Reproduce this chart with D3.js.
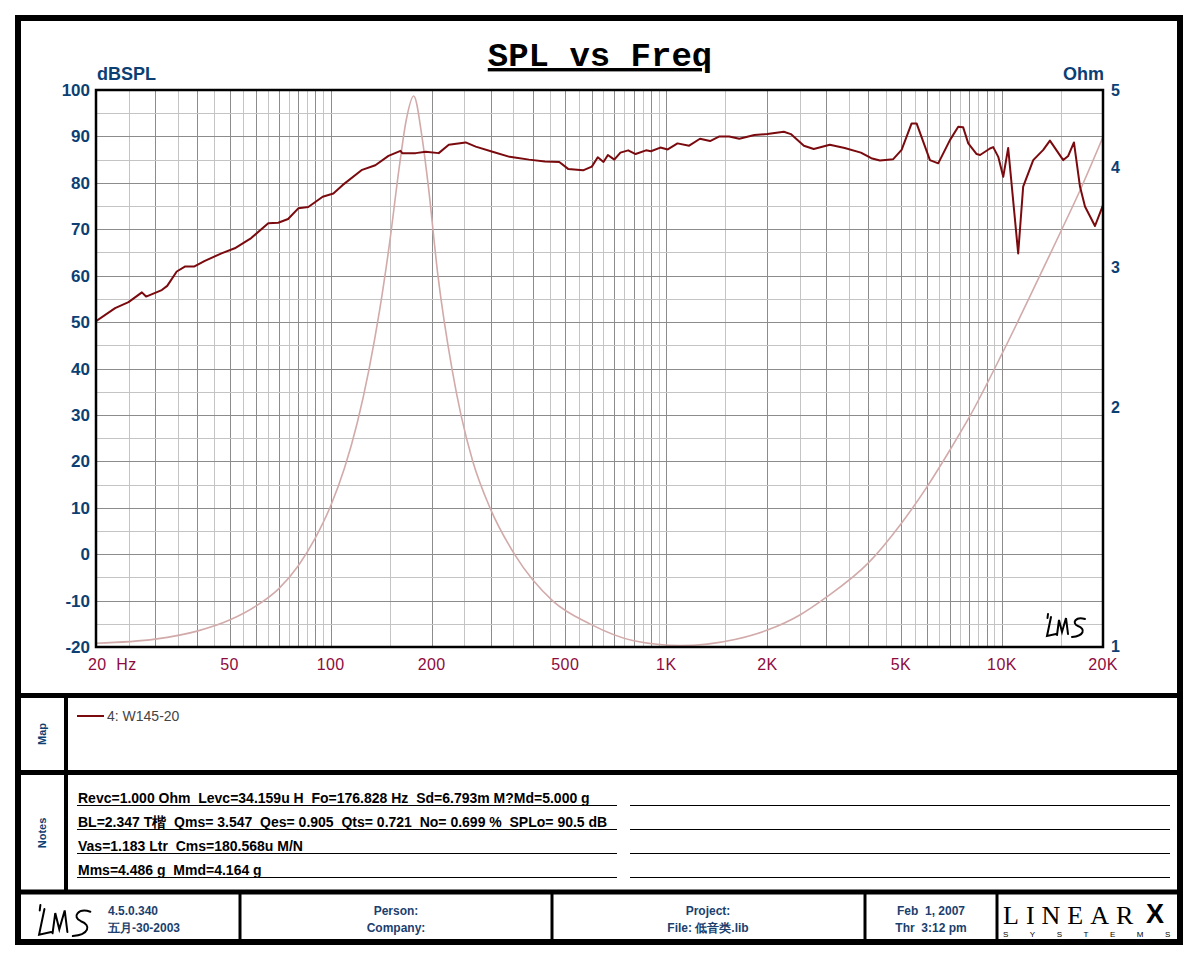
<!DOCTYPE html>
<html>
<head>
<meta charset="utf-8">
<script src="https://cdn.jsdelivr.net/npm/d3@7"></script>
<style>
body { margin: 0; background: #fff; }
text { white-space: pre; }
</style>
</head>
<body>
<svg width="1200" height="960"></svg>
<script>
// SPL curve
var splFreq = [20, 22.8, 25, 27.4, 28.2, 31.4, 32.6, 34.8, 36.9, 39.3, 42.2, 47.3, 51.8, 58, 65.2, 69.8, 74.7, 80.1, 85.8, 94.7,
    101.9, 108.5, 124.1, 135.9, 148.7, 161.5, 163.4, 179.2, 191.9, 209.9, 224.9, 252.5, 270.6, 303.6, 341.5, 357.7,
    390, 435, 480, 510, 565, 600, 625, 650, 670, 700, 730, 770, 810, 870, 900, 960, 1010, 1080, 1170, 1260, 1350, 1440,
    1540, 1650, 1830, 2000, 2240, 2350, 2570, 2750, 3070, 3400, 3800, 4080, 4328, 4743, 5024, 5381, 5568, 6101, 6459,
    6998, 7409, 7660, 7937, 8406, 8608, 9210, 9417, 9750, 10088, 10437, 11177, 11567, 12393, 13275, 13896, 15224,
    15755, 16386, 17078, 17674, 18929, 20000];
var splDb = [50.2, 53.0, 54.3, 56.4, 55.5, 56.9, 57.8, 60.9, 62.0, 62.0, 63.2, 64.8, 65.9, 68.1, 71.3, 71.4, 72.2, 74.5, 74.8, 77.0,
    77.7, 79.5, 82.8, 83.8, 85.8, 86.9, 86.4, 86.4, 86.7, 86.4, 88.2, 88.7, 87.8, 86.7, 85.6, 85.4,
    85.0, 84.6, 84.5, 83.0, 82.7, 83.5, 85.5, 84.5, 86.0, 85.0, 86.5, 87.0, 86.2, 87.0, 86.8, 87.6, 87.2, 88.5, 88.0, 89.5, 89.0, 90.0,
    90.0, 89.5, 90.3, 90.5, 91.0, 90.5, 88.0, 87.3, 88.2, 87.5, 86.5, 85.3, 84.8, 85.1, 87.1, 92.8, 92.8, 84.9, 84.2,
    89.2, 92.1, 92.0, 88.5, 86.2, 86.0, 87.4, 87.7, 85.6, 81.3, 87.5, 64.8, 79.2, 84.9, 87.1, 89.1, 84.9,
    85.8, 88.7, 79.2, 74.9, 70.7, 75.2];

// impedance curve (Ohm)
var zFreq = [20, 30, 40, 50, 60, 70, 80, 90, 100, 110, 120, 130, 140, 150, 160, 168, 176.8,
    187.1, 195, 208.8, 229.9, 244.6, 265.5, 298.4, 354, 459.6, 592, 800, 1100, 1600,
    2000, 2500, 3000, 4000, 5000, 6000, 7000, 8000, 10000, 13300, 15000, 17000, 20000];
var zOhm = [1.011, 1.023, 1.047, 1.081, 1.126, 1.183, 1.264, 1.370, 1.503, 1.677, 1.910, 2.226, 2.648, 3.223, 3.991, 4.585, 4.914,
    4.37, 3.82, 2.925, 2.234, 1.954, 1.707, 1.495, 1.305, 1.142, 1.069, 1.018, 1.004, 1.022,
    1.050, 1.097, 1.155, 1.275, 1.427, 1.592, 1.767, 1.944, 2.332, 2.990, 3.327, 3.724, 4.365];

var dbTicks = [-20, -10, 0, 10, 20, 30, 40, 50, 60, 70, 80, 90, 100];
var ohmTicks = [1, 2, 3, 4, 5];
var freqTicks = [20, 50, 100, 200, 500, 1000, 2000, 5000, 10000, 20000];
var freqLabels = ["20  Hz", "50", "100", "200", "500", "1K", "2K", "5K", "10K", "20K"];
var legendLabel = "4: W145-20";
var notes = [
    "Revc=1.000 Ohm  Levc=34.159u H  Fo=176.828 Hz  Sd=6.793m M?Md=5.000 g",
    "BL=2.347 T楷  Qms= 3.547  Qes= 0.905  Qts= 0.721  No= 0.699 %  SPLo= 90.5 dB",
    "Vas=1.183 Ltr  Cms=180.568u M/N",
    "Mms=4.486 g  Mmd=4.164 g"
];

var blue = "#0c3f73", red = "#8e0b3e", ink = "#1b3f6e";
var narrow = "'Liberation Sans Narrow', 'Arial Narrow', 'Liberation Sans', Arial, sans-serif";
var sans = "'Liberation Sans', Arial, sans-serif";

var svg = d3.select("svg");
svg.append("rect").attr("width", 1200).attr("height", 960).attr("fill", "#fff");

var plot = {left: 96, top: 90, right: 1103, bottom: 647};

var x = d3.scaleLog().domain([20, 20000]).range([plot.left, plot.right]);
var y = d3.scaleLinear().domain([-20, 100]).range([plot.bottom, plot.top]);
var yz = d3.scaleLog().domain([1, 5]).range([plot.bottom, plot.top]);

// grid
var gridX = [];
[10, 100, 1000, 10000].forEach(function(dec) {
    gridX.push({v: dec * 1.5, major: false});
    for (var m = 2; m <= 10; m += 0.5) gridX.push({v: dec * m, major: m % 1 === 0});
});
gridX = gridX.filter(function(d) { return d.v > 20 && d.v < 20000; });

var grid = svg.append("g").attr("shape-rendering", "crispEdges");
grid.selectAll(".gx").data(gridX).enter().append("line")
    .attr("x1", function(d) { return Math.round(x(d.v)) + 0.5; })
    .attr("x2", function(d) { return Math.round(x(d.v)) + 0.5; })
    .attr("y1", plot.top).attr("y2", plot.bottom)
    .attr("stroke", function(d) { return d.major ? "#8c8c8c" : "#c4c4c4"; });

grid.selectAll(".gy").data(d3.range(-15, 100, 5)).enter().append("line")
    .attr("x1", plot.left).attr("x2", plot.right)
    .attr("y1", function(d) { return Math.round(y(d)) + 0.5; })
    .attr("y2", function(d) { return Math.round(y(d)) + 0.5; })
    .attr("stroke", function(d) { return d % 10 === 0 ? "#8c8c8c" : "#c4c4c4"; });

svg.append("clipPath").attr("id", "clip").append("rect")
    .attr("x", plot.left).attr("y", plot.top)
    .attr("width", plot.right - plot.left).attr("height", plot.bottom - plot.top);

var zLine = d3.line().curve(d3.curveMonotoneX)
    .x(function(d, i) { return x(zFreq[i]); })
    .y(function(d, i) { return yz(zOhm[i]); });
svg.append("path").datum(zFreq).attr("d", zLine).attr("clip-path", "url(#clip)")
    .attr("fill", "none").attr("stroke", "#d2aaaa").attr("stroke-width", 1.6);

var splLine = d3.line()
    .x(function(d, i) { return x(splFreq[i]); })
    .y(function(d, i) { return y(splDb[i]); });
svg.append("path").datum(splFreq).attr("d", splLine).attr("clip-path", "url(#clip)")
    .attr("fill", "none").attr("stroke", "#7a0a0e").attr("stroke-width", 2).attr("stroke-linejoin", "round");

svg.append("rect").attr("x", plot.left).attr("y", plot.top)
    .attr("width", plot.right - plot.left).attr("height", plot.bottom - plot.top)
    .attr("fill", "none").attr("stroke", "#000").attr("stroke-width", 2.5);

// axes labels
svg.append("g").selectAll("text").data(dbTicks).enter().append("text")
    .attr("x", plot.left - 6).attr("y", function(d) { return y(d) + 6; })
    .attr("text-anchor", "end").attr("font-family", sans).attr("font-weight", "bold")
    .attr("font-size", 17).attr("fill", blue).text(function(d) { return d; });

svg.append("g").selectAll("text").data(ohmTicks).enter().append("text")
    .attr("x", plot.right + 8).attr("y", function(d) { return yz(d) + (d === 1 ? 5 : 6); })
    .attr("font-family", sans).attr("font-weight", "bold")
    .attr("font-size", 16).attr("fill", blue).text(function(d) { return d; });

svg.append("g").selectAll("text").data(freqTicks).enter().append("text")
    .attr("x", function(d) { return x(d); }).attr("y", 670)
    .attr("text-anchor", function(d, i) { return i === 0 ? "start" : "middle"; })
    .attr("dx", function(d, i) { return i === 0 ? -8 : 0; })
    .attr("font-family", sans).attr("font-size", 16).attr("letter-spacing", 0.4).attr("fill", red)
    .text(function(d, i) { return freqLabels[i]; });

svg.append("text").attr("x", 97).attr("y", 80).attr("font-family", sans).attr("font-weight", "bold")
    .attr("font-size", 18).attr("fill", blue).text("dBSPL");
svg.append("text").attr("x", 1104).attr("y", 80).attr("text-anchor", "end").attr("font-family", sans)
    .attr("font-weight", "bold").attr("font-size", 18).attr("fill", blue).text("Ohm");

svg.append("text").attr("x", 600).attr("y", 66).attr("text-anchor", "middle")
    .attr("font-family", "'Liberation Mono', 'Courier New', monospace").attr("font-weight", "bold")
    .attr("font-size", 34).attr("text-decoration", "underline").attr("fill", "#000").text("SPL vs Freq");

// handwritten LMS mark
function lms(g, tx, ty, s) {
    g.append("path")
        .attr("transform", "translate(" + tx + "," + ty + ") scale(" + s + ")")
        .attr("d", "M4,0 L3.5,4 M7,3 L3,22 L12,20 M13,21 L15,6 L18,18 L22,4 L24,20 M41,5 C32,2 27,9 34,12 C42,15 40,22 28,23")
        .attr("fill", "none").attr("stroke", "#000").attr("stroke-width", 2 / s).attr("stroke-linecap", "round");
}
lms(svg, 1044, 614, 1);

// frame panels
var frame = svg.append("g").attr("fill", "none").attr("stroke", "#000");
frame.append("rect").attr("x", 18).attr("y", 18).attr("width", 1162).attr("height", 924).attr("stroke-width", 6);
[695.5, 772.5, 892].forEach(function(yy) {
    frame.append("line").attr("x1", 18).attr("x2", 1180).attr("y1", yy).attr("y2", yy).attr("stroke-width", 5);
});
frame.append("line").attr("x1", 66).attr("x2", 66).attr("y1", 695).attr("y2", 892).attr("stroke-width", 4);
[240, 552, 865, 997].forEach(function(xx) {
    frame.append("line").attr("x1", xx).attr("x2", xx).attr("y1", 892).attr("y2", 942).attr("stroke-width", 3);
});

// side labels
[["Map", 734], ["Notes", 833]].forEach(function(d) {
    svg.append("text").attr("transform", "translate(46," + d[1] + ") rotate(-90)")
        .attr("text-anchor", "middle").attr("font-family", sans).attr("font-weight", "bold")
        .attr("font-size", 11).attr("fill", blue).text(d[0]);
});

// legend
svg.append("line").attr("x1", 77).attr("x2", 104).attr("y1", 716).attr("y2", 716)
    .attr("stroke", "#7a0a0e").attr("stroke-width", 2);
svg.append("text").attr("x", 107).attr("y", 721).attr("font-family", sans)
    .attr("font-size", 14).attr("fill", "#444").text(legendLabel);

// notes
var noteRows = svg.append("g");
notes.forEach(function(t, i) {
    var yy = 803 + i * 24;
    noteRows.append("text").attr("x", 78).attr("y", yy).attr("font-family", narrow)
        .attr("font-weight", "bold").attr("font-size", 14).attr("fill", "#000").text(t);
    noteRows.append("line").attr("x1", 77).attr("x2", 617).attr("y1", yy + 2.5).attr("y2", yy + 2.5)
        .attr("stroke", "#000").attr("stroke-width", 1.2);
    noteRows.append("line").attr("x1", 630).attr("x2", 1170).attr("y1", yy + 2.5).attr("y2", yy + 2.5)
        .attr("stroke", "#000").attr("stroke-width", 1.2);
});

// footer
lms(svg, 35, 905, 1.35);
var foot = [
    [108, 915, "start", "4.5.0.340"], [108, 932, "start", "五月-30-2003"],
    [396, 915, "middle", "Person:"], [396, 932, "middle", "Company:"],
    [708, 915, "middle", "Project:"], [708, 932, "middle", "File: 低音类.lib"],
    [931, 915, "middle", "Feb  1, 2007"], [931, 932, "middle", "Thr  3:12 pm"]
];
svg.append("g").selectAll("text").data(foot).enter().append("text")
    .attr("x", function(d) { return d[0]; }).attr("y", function(d) { return d[1]; })
    .attr("text-anchor", function(d) { return d[2]; })
    .attr("font-family", narrow).attr("font-weight", "bold").attr("font-size", 12).attr("fill", ink)
    .text(function(d) { return d[3]; });

// LINEAR X logo
svg.append("text").attr("x", 1003).attr("y", 924).attr("font-family", "'Liberation Serif', 'DejaVu Serif', serif")
    .attr("font-size", 26).attr("letter-spacing", 7).attr("fill", "#000").text("LINEAR");
svg.append("text").attr("x", 1146).attr("y", 923).attr("font-family", sans).attr("font-weight", "900")
    .attr("font-size", 27).attr("fill", "#000").text("X");
svg.append("text").attr("x", 1003).attr("y", 937).attr("font-family", sans)
    .attr("font-size", 8).attr("letter-spacing", 21.5).attr("fill", "#000").text("SYSTEMS");
</script>
</body>
</html>
